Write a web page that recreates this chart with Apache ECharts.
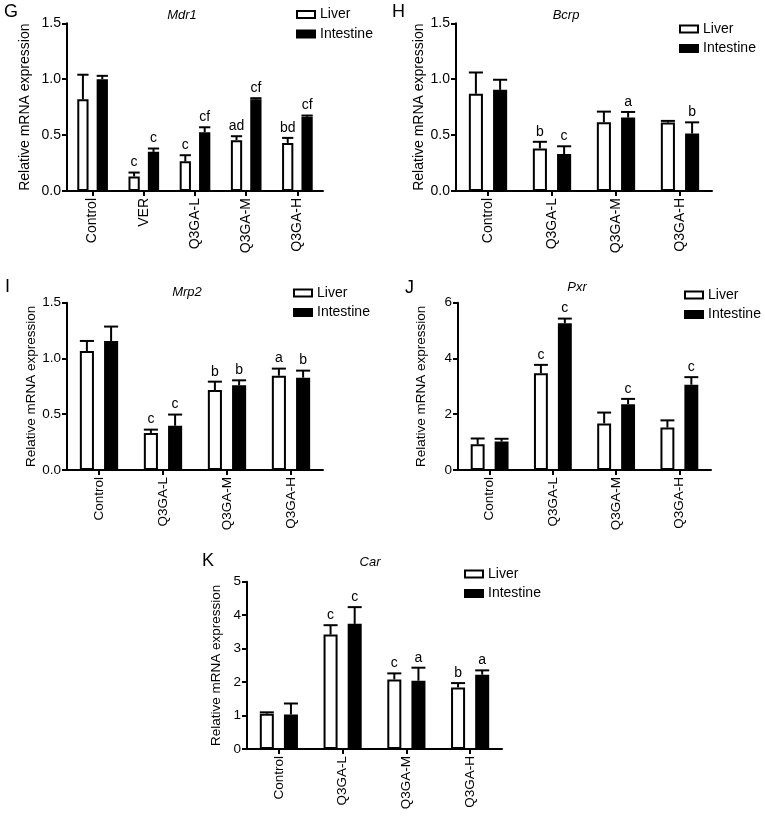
<!DOCTYPE html>
<html><head><meta charset="utf-8">
<script src="https://cdn.jsdelivr.net/npm/echarts@6/dist/echarts.min.js"></script>
<style>html,body{margin:0;padding:0;background:#fff}#c{width:765px;height:817px}</style>
</head><body><div id="c"></div>
<script>
// ---------- data ----------
const catsMdr1 = ['Control', 'VER', 'Q3GA-L', 'Q3GA-M', 'Q3GA-H'];
const cats4 = ['Control', 'Q3GA-L', 'Q3GA-M', 'Q3GA-H'];

const mdr1Liver = [0.82, 0.13, 0.265, 0.455, 0.43];
const mdr1LiverErr = [0.22, 0.035, 0.055, 0.035, 0.045];
const mdr1Int = [1.0, 0.35, 0.525, 0.82, 0.665];
const mdr1IntErr = [0.03, 0.03, 0.045, 0.01, 0.01];
const mdr1LiverSig = ['', 'c', 'c', 'ad', 'bd'];
const mdr1IntSig = ['', 'c', 'cf', 'cf', 'cf'];

const bcrpLiver = [0.87, 0.38, 0.615, 0.612];
const bcrpLiverErr = [0.19, 0.06, 0.095, 0.015];
const bcrpInt = [0.905, 0.33, 0.657, 0.514];
const bcrpIntErr = [0.09, 0.07, 0.05, 0.10];
const bcrpLiverSig = ['', 'b', '', ''];
const bcrpIntSig = ['', 'c', 'a', 'b'];

const mrp2Liver = [1.067, 0.332, 0.717, 0.846];
const mrp2LiverErr = [0.09, 0.03, 0.075, 0.063];
const mrp2Int = [1.156, 0.397, 0.759, 0.828];
const mrp2IntErr = [0.13, 0.10, 0.045, 0.063];
const mrp2LiverSig = ['', 'c', 'b', 'a'];
const mrp2IntSig = ['', 'c', 'b', 'b'];

const pxrLiver = [0.92, 3.47, 1.67, 1.52];
const pxrLiverErr = [0.21, 0.30, 0.39, 0.26];
const pxrInt = [1.02, 5.26, 2.36, 3.06];
const pxrIntErr = [0.10, 0.17, 0.19, 0.27];
const pxrLiverSig = ['', 'c', '', ''];
const pxrIntSig = ['', 'c', 'c', 'c'];

const carLiver = [1.056, 3.42, 2.08, 1.84];
const carLiverErr = [0.04, 0.28, 0.18, 0.13];
const carInt = [1.03, 3.74, 2.04, 2.22];
const carIntErr = [0.33, 0.50, 0.39, 0.13];
const carLiverSig = ['', 'c', 'c', 'b'];
const carIntSig = ['', 'c', 'a', 'a'];

const ticks15 = [0, 0.5, 1.0, 1.5];
const ticks6 = [0, 2, 4, 6];
const ticks5 = [0, 1, 2, 3, 4, 5];

// ---------- style / layout ----------
const FONT = '"Liberation Sans", Arial, Helvetica, sans-serif';
const BW = 0.22, GAP = 0.72;

const panels = [
  { letter: 'G', gene: 'Mdr1', cats: catsMdr1, liver: mdr1Liver, liverErr: mdr1LiverErr, int: mdr1Int, intErr: mdr1IntErr, liverSig: mdr1LiverSig, intSig: mdr1IntSig, ticks: ticks15, dec: 1,
    grid: { left: 67, top: 23.3, width: 256, height: 167.7 }, nameGap: 35, fs: 14,
    letterPos: [4, 12], genePos: [182, 15], legend: [296, 7.5] },
  { letter: 'H', gene: 'Bcrp', cats: cats4, liver: bcrpLiver, liverErr: bcrpLiverErr, int: bcrpInt, intErr: bcrpIntErr, liverSig: bcrpLiverSig, intSig: bcrpIntSig, ticks: ticks15, dec: 1,
    grid: { left: 456, top: 23.3, width: 256, height: 167.7 }, nameGap: 27, fs: 14,
    letterPos: [392, 12], genePos: [566, 15], legend: [679, 22] },
  { letter: 'I', gene: 'Mrp2', cats: cats4, liver: mrp2Liver, liverErr: mrp2LiverErr, int: mrp2Int, intErr: mrp2IntErr, liverSig: mrp2LiverSig, intSig: mrp2IntSig, ticks: ticks15, dec: 1,
    grid: { left: 67, top: 302.7, width: 256, height: 167.3 }, nameGap: 29, fs: 13.5,
    letterPos: [5, 287], genePos: [187, 292], legend: [293, 286] },
  { letter: 'J', gene: 'Pxr', cats: cats4, liver: pxrLiver, liverErr: pxrLiverErr, int: pxrInt, intErr: pxrIntErr, liverSig: pxrLiverSig, intSig: pxrIntSig, ticks: ticks6, dec: 0,
    grid: { left: 458, top: 302.7, width: 253, height: 167.3 }, nameGap: 30, fs: 13.5,
    letterPos: [405, 288.5], genePos: [577, 287], legend: [684, 288] },
  { letter: 'K', gene: 'Car', cats: cats4, liver: carLiver, liverErr: carLiverErr, int: carInt, intErr: carIntErr, liverSig: carLiverSig, intSig: carIntSig, ticks: ticks5, dec: 0,
    grid: { left: 247, top: 581.7, width: 255, height: 167.3 }, nameGap: 24, fs: 13.5,
    letterPos: [202, 561.5], genePos: [370, 562], legend: [464, 567] }
];

function errRender(side, sigs) {
  return function (params, api) {
    const i = api.value(0), v = api.value(1), e = api.value(2);
    const band = api.size([1, 0])[0];
    const bw = band * BW;
    const off = side * bw * (1 + GAP) / 2;
    const base = api.coord([i, v]);
    const top = api.coord([i, v + e]);
    const x = base[0] + off;
    const children = [];
    if (e > 0) {
      children.push({ type: 'line', shape: { x1: x, y1: base[1], x2: x, y2: top[1] }, style: { stroke: '#000', lineWidth: 2 } });
      children.push({ type: 'line', shape: { x1: x - bw * 0.5, y1: top[1], x2: x + bw * 0.5, y2: top[1] }, style: { stroke: '#000', lineWidth: 2 } });
    }
    const s = sigs[params.dataIndex];
    if (s) children.push({ type: 'text', x: x, y: top[1] - 3, style: { text: s, fill: '#000', font: '14px ' + FONT, align: 'center', verticalAlign: 'bottom' } });
    return { type: 'group', children: children };
  };
}

const option = { animation: false, backgroundColor: '#fff', grid: [], xAxis: [], yAxis: [], series: [], legend: [], graphic: [] };

panels.forEach(function (p, k) {
  option.grid.push(Object.assign({ containLabel: false }, p.grid));
  option.xAxis.push({
    type: 'category', gridIndex: k, data: p.cats,
    axisLine: { show: true, lineStyle: { color: '#000', width: 2 } },
    axisTick: { show: true, alignWithLabel: true, length: 5, lineStyle: { color: '#000', width: 2 } },
    axisLabel: { rotate: 90, margin: 7, color: '#000', fontSize: p.fs, fontFamily: FONT, interval: 0 },
    splitLine: { show: false }
  });
  const tk = p.ticks;
  option.yAxis.push({
    type: 'value', gridIndex: k, min: tk[0], max: tk[tk.length - 1], interval: tk[1] - tk[0],
    name: 'Relative mRNA expression', nameLocation: 'middle', nameGap: p.nameGap, nameRotate: 90,
    nameTextStyle: { color: '#000', fontSize: p.fs, fontFamily: FONT },
    axisLine: { show: true, lineStyle: { color: '#000', width: 2 } },
    axisTick: { show: true, length: 5, lineStyle: { color: '#000', width: 2 } },
    axisLabel: { margin: 6, color: '#000', fontSize: p.fs, fontFamily: FONT, formatter: function (v) { return v.toFixed(p.dec); } },
    splitLine: { show: false }
  });
  option.series.push({
    type: 'bar', name: 'Liver', xAxisIndex: k, yAxisIndex: k, data: p.liver,
    barWidth: (BW * 100) + '%', barGap: (GAP * 100) + '%',
    itemStyle: { color: '#fff', borderColor: '#000', borderWidth: 2 }
  });
  option.series.push({
    type: 'bar', name: 'Intestine', xAxisIndex: k, yAxisIndex: k, data: p.int,
    barWidth: (BW * 100) + '%', barGap: (GAP * 100) + '%',
    itemStyle: { color: '#000', borderColor: '#000', borderWidth: 2 }
  });
  option.series.push({
    type: 'custom', name: 'errLiver' + k, xAxisIndex: k, yAxisIndex: k, z: 5,
    encode: { x: 0, y: 1 },
    data: p.liver.map(function (v, i) { return [i, v, p.liverErr[i]]; }),
    renderItem: errRender(-1, p.liverSig)
  });
  option.series.push({
    type: 'custom', name: 'errInt' + k, xAxisIndex: k, yAxisIndex: k, z: 5,
    encode: { x: 0, y: 1 },
    data: p.int.map(function (v, i) { return [i, v, p.intErr[i]]; }),
    renderItem: errRender(1, p.intSig)
  });
  option.legend.push({
    left: p.legend[0], top: p.legend[1], orient: 'vertical', padding: 0,
    itemWidth: 18, itemHeight: 7, itemGap: 5.5, icon: 'rect', selectedMode: false,
    textStyle: { color: '#000', fontSize: 14, fontFamily: FONT },
    data: [
      { name: 'Liver', itemStyle: { color: '#fff', borderColor: '#000', borderWidth: 2 } },
      { name: 'Intestine', itemStyle: { color: '#000', borderColor: '#000', borderWidth: 2 } }
    ]
  });
  option.graphic.push({
    type: 'text', x: p.letterPos[0], y: p.letterPos[1],
    style: { text: p.letter, fill: '#000', font: '18px ' + FONT, align: 'left', verticalAlign: 'middle' }
  });
  option.graphic.push({
    type: 'text', x: p.genePos[0], y: p.genePos[1],
    style: { text: p.gene, fill: '#000', font: 'italic 13px ' + FONT, align: 'center', verticalAlign: 'middle' }
  });
});

const chart = echarts.init(document.getElementById('c'), null, { renderer: 'canvas' });
chart.setOption(option);
</script>
</body></html>
